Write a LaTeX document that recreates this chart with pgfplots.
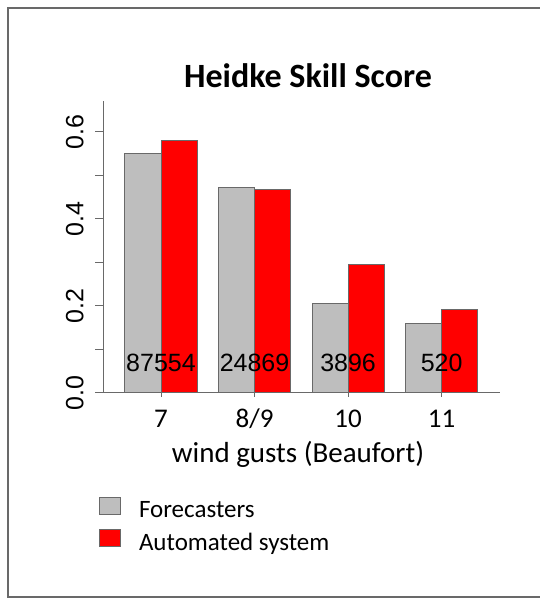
\documentclass[border=0pt]{standalone}
\usepackage{pgfplots}
\pgfplotsset{compat=1.18}
\usepackage{fontspec}
\setmainfont{Carlito}
\newfontfamily\arialf{Liberation Sans}
\definecolor{rgray}{RGB}{190,190,190}
\definecolor{axgray}{RGB}{105,105,105}
\definecolor{rred}{RGB}{255,0,0}
\begin{document}
\begin{tikzpicture}[x=1pt,y=1pt]
\begin{axis}[
  at={(103.3pt,206.3pt)}, anchor=south west,
  scale only axis, width=396.7pt, height=291.45pt,
  xmin=-0.6168, xmax=3.624, ymin=0, ymax=0.67,
  axis x line=bottom, axis y line=left,
  axis line style={-, draw=axgray, line width=1pt},
  x axis line style={shorten <=-8.3pt},
  clip=false,
  xtick={0,1,2,3}, xticklabels={7,8/9,10,11},
  ytick={0,0.2,0.4,0.6}, minor ytick={0.1,0.3,0.5},
  tick align=outside, major tick length=8pt, minor tick length=8pt,
  tick style={draw=axgray, line width=1pt},
  xtick style={/pgfplots/major tick length=4pt},
  /pgf/number format/assume math mode=true,
  yticklabel={\pgfmathprintnumber[fixed,fixed zerofill,precision=1]{\tick}},
  yticklabel style={font=\fontsize{25}{25}\selectfont\arialf, xshift=-12pt, rotate=90, anchor=base, inner sep=0pt},
  xticklabel style={font=\fontsize{27}{27}\selectfont, anchor=base, inner sep=0pt, yshift=-27.3pt},
  legend style={at={(-0.01084,-0.3568)}, anchor=north west, draw=none, fill=none,
    inner sep=0pt, outer sep=0pt, row sep=0pt, column sep=18pt,
    font=\fontsize{25}{25}\selectfont,
    nodes={inner sep=0pt, text height=20pt, text depth=11.6pt}},
  legend cell align=left,
]
\addplot[ybar, bar width=36pt, bar shift=-18pt, fill=rgray, draw=axgray, line width=1pt,
  legend image code/.code={\draw[fill=rgray, draw=axgray, line width=1pt] (0pt,-0.5pt) rectangle (21pt,16.5pt);}]
  coordinates {(0,0.550) (1,0.471) (2,0.204) (3,0.160)};
\addlegendentry{Forecasters}
\addplot[ybar, bar width=36pt, bar shift=18pt, fill=rred, draw=axgray, line width=1pt,
  legend image code/.code={\draw[fill=rred, draw=axgray, line width=1pt] (0pt,-0.5pt) rectangle (21pt,16.5pt);}]
  coordinates {(0,0.579) (1,0.467) (2,0.295) (3,0.192)};
\addlegendentry{Automated system}
\node[font=\fontsize{25}{25}\selectfont\arialf, anchor=base, inner sep=0pt] at (axis cs:0,0.0476) {87554};
\node[font=\fontsize{25}{25}\selectfont\arialf, anchor=base, inner sep=0pt] at (axis cs:1,0.0476) {24869};
\node[font=\fontsize{25}{25}\selectfont\arialf, anchor=base, inner sep=0pt] at (axis cs:2,0.0476) {3896};
\node[font=\fontsize{25}{25}\selectfont\arialf, anchor=base, inner sep=0pt] at (axis cs:3,0.0476) {520};
\end{axis}
\node[font=\fontsize{34}{34}\selectfont\bfseries, anchor=base, inner sep=0pt] at (308,511) {Heidke Skill Score};
\node[font=\fontsize{29}{29}\selectfont, anchor=base, inner sep=0pt] at (298,136) {wind gusts (Beaufort)};
\draw[axgray, line width=1.3pt] (8,2) rectangle (570,591);
\pgfresetboundingbox
\path[use as bounding box] (0,0) rectangle (540,599);
\end{tikzpicture}
\end{document}
